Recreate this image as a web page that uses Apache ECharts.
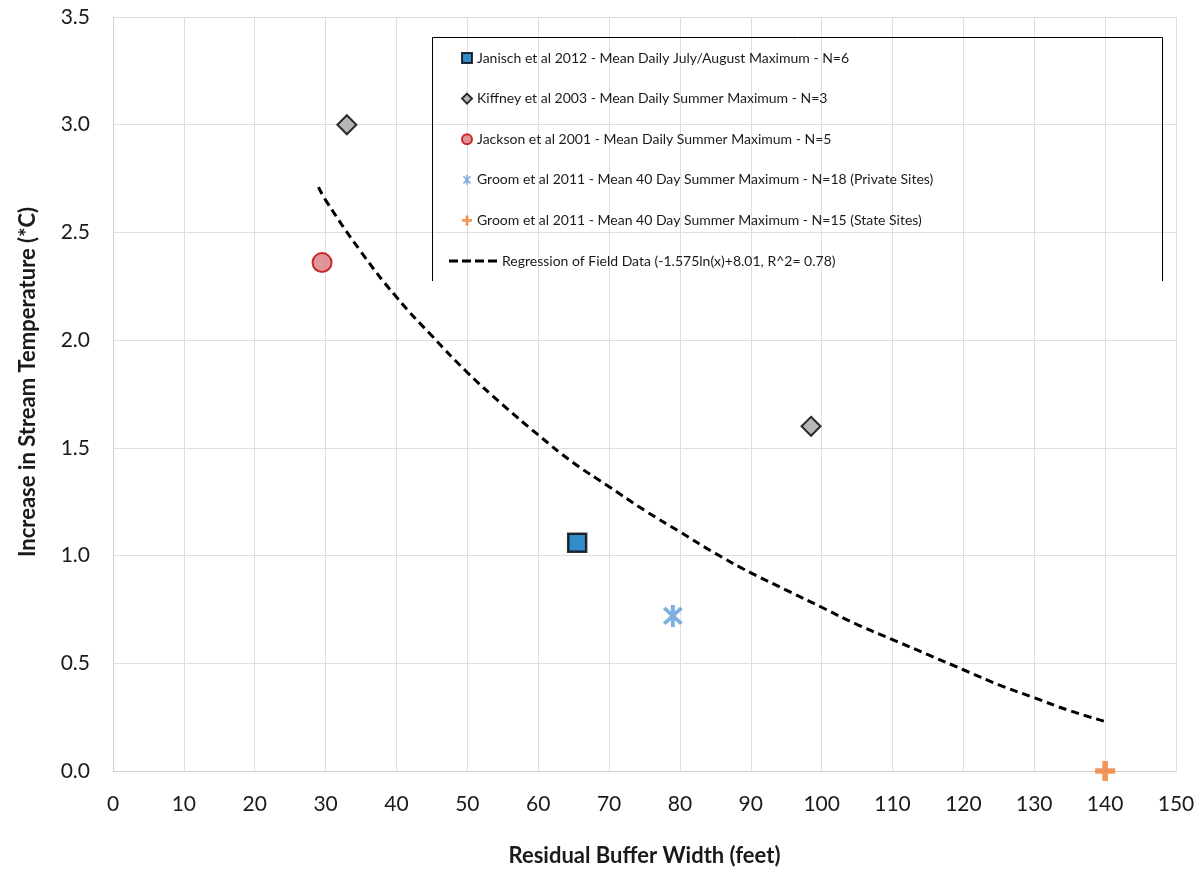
<!DOCTYPE html>
<html>
<head>
<meta charset="utf-8">
<script src="https://cdn.jsdelivr.net/npm/echarts@6/dist/echarts.min.js"></script>
<style>html,body{margin:0;padding:0;background:#fff}#c{width:1203px;height:874px}</style>
</head>
<body>
<div id="c"></div>
<script>
// ---- data ----
const janischData = [[65.5, 1.06]];
const kiffneyData = [[33, 3.0], [98.5, 1.6]];
const jacksonData = [[29.5, 2.36]];
const groomPrivateData = [[79, 0.72]];
const groomStateData = [[140, 0.0]];
const regressionX = [29, 30, 35, 40, 45, 50, 55, 60, 65, 70, 75, 80, 85, 90, 95, 100, 105, 110, 115, 120, 125, 130, 135, 140];
const regressionY = [2.71, 2.65, 2.41, 2.20, 2.02, 1.85, 1.70, 1.56, 1.43, 1.32, 1.21, 1.11, 1.01, 0.92, 0.84, 0.76, 0.68, 0.61, 0.54, 0.47, 0.40, 0.34, 0.28, 0.23];
const seriesNames = [
  'Janisch et al 2012 - Mean Daily July/August Maximum - N=6',
  'Kiffney et al 2003 - Mean Daily Summer Maximum - N=3',
  'Jackson et al 2001 - Mean Daily Summer Maximum - N=5',
  'Groom et al 2011 - Mean 40 Day Summer Maximum - N=18 (Private Sites)',
  'Groom et al 2011 - Mean 40 Day Summer Maximum - N=15 (State Sites)',
  'Regression of Field Data (-1.575ln(x)+8.01, R^2= 0.78)'
];
const xTitle = 'Residual Buffer Width (feet)';
const yTitle = 'Increase in Stream Temperature (*C)';

const FONT = 'Lato, "Liberation Sans", sans-serif';
const asterisk = 'path://M-1.3,8L1.3,8L1.3,-8L-1.3,-8Z M4.74,6.58L6.58,4.74L-4.74,-6.58L-6.58,-4.74Z M6.58,-4.74L4.74,-6.58L-6.58,4.74L-4.74,6.58Z';
const plus = 'path://M-1.7,-6L1.7,-6L1.7,-1.7L6,-1.7L6,1.7L1.7,1.7L1.7,6L-1.7,6L-1.7,1.7L-6,1.7L-6,-1.7L-1.7,-1.7Z';
const dashIcon = 'path://M0,0L9,0L9,3L0,3Z M13,0L22,0L22,3L13,3Z M26,0L35,0L35,3L26,3Z M39,0L48,0L48,3L39,3Z';

const regressionData = regressionX.map((x, i) => [x, regressionY[i]]);

const chart = echarts.init(document.getElementById('c'), null, {renderer: 'canvas'});
chart.setOption({
  backgroundColor: '#fff',
  animation: false,
  grid: {left: 113, right: 27, top: 17, bottom: 103, containLabel: false},
  xAxis: {
    type: 'value', min: 0, max: 150, interval: 10,
    name: xTitle, nameLocation: 'middle', nameGap: 74,
    nameTextStyle: {fontFamily: FONT, fontSize: 22, fontWeight: 'bold', color: '#1a1a1a'},
    axisLine: {show: true, lineStyle: {color: '#d0d0d0', width: 1}},
    axisTick: {show: false},
    axisLabel: {fontFamily: FONT, fontSize: 21, color: '#1a1a1a', margin: 23},
    splitLine: {show: true, lineStyle: {color: '#dedede', width: 1}}
  },
  yAxis: {
    type: 'value', min: 0, max: 3.5, interval: 0.5,
    name: yTitle, nameLocation: 'middle', nameGap: 74, nameRotate: 90,
    nameTextStyle: {fontFamily: FONT, fontSize: 22, fontWeight: 'bold', color: '#1a1a1a', padding: [0, 0, 0, 24]},
    axisLine: {show: true, lineStyle: {color: '#d0d0d0', width: 1}},
    axisTick: {show: false},
    axisLabel: {fontFamily: FONT, fontSize: 21, color: '#1a1a1a', margin: 23, formatter: v => v.toFixed(1)},
    splitLine: {show: true, lineStyle: {color: '#dedede', width: 1}}
  },
  legend: [
    {
      orient: 'vertical', left: 456, top: 43, itemWidth: 10, itemHeight: 10, itemGap: 20.6,
      selectedMode: false,
      textStyle: {fontFamily: FONT, fontSize: 14, color: '#1a1a1a', lineHeight: 20},
      data: [
        {name: seriesNames[0], icon: 'rect'},
        {name: seriesNames[1], icon: 'diamond'},
        {name: seriesNames[2], icon: 'circle'},
        {name: seriesNames[3], icon: asterisk},
        {name: seriesNames[4], icon: plus}
      ]
    },
    {
      orient: 'vertical', left: 444, top: 246, itemWidth: 48, itemHeight: 3,
      selectedMode: false,
      textStyle: {fontFamily: FONT, fontSize: 14, color: '#1a1a1a', lineHeight: 20},
      data: [{name: seriesNames[5], icon: dashIcon, itemStyle: {color: '#000', borderWidth: 0}}]
    }
  ],
  graphic: [{
    type: 'polyline', silent: true, z: 100,
    shape: {points: [[432.5, 281], [432.5, 37.5], [1162.5, 37.5], [1162.5, 281]]},
    style: {stroke: '#000', lineWidth: 1, fill: null}
  }],
  series: [
    {
      name: seriesNames[5], type: 'line', data: regressionData, symbol: 'none', smooth: true,
      itemStyle: {color: '#000'},
      lineStyle: {color: '#000', width: 3, type: [8, 5]}, z: 2
    },
    {
      name: seriesNames[0], type: 'scatter', data: janischData, symbol: 'rect', symbolSize: 18,
      itemStyle: {color: '#0070C0', borderColor: '#000', borderWidth: 2.5}, z: 5
    },
    {
      name: seriesNames[1], type: 'scatter', data: kiffneyData, symbol: 'diamond', symbolSize: 19,
      itemStyle: {color: '#A5A5A5', borderColor: '#000', borderWidth: 2}, z: 5
    },
    {
      name: seriesNames[2], type: 'scatter', data: jacksonData, symbol: 'circle', symbolSize: 19,
      itemStyle: {color: '#DA7A7E', borderColor: '#C00000', borderWidth: 2}, z: 5
    },
    {
      name: seriesNames[3], type: 'scatter', data: groomPrivateData, symbol: asterisk, symbolSize: [20, 22],
      itemStyle: {color: '#5B9BD5'}, z: 5
    },
    {
      name: seriesNames[4], type: 'scatter', data: groomStateData, symbol: plus, symbolSize: 20,
      itemStyle: {color: '#ED7D31'}, z: 5
    }
  ]
});
</script>
</body>
</html>
